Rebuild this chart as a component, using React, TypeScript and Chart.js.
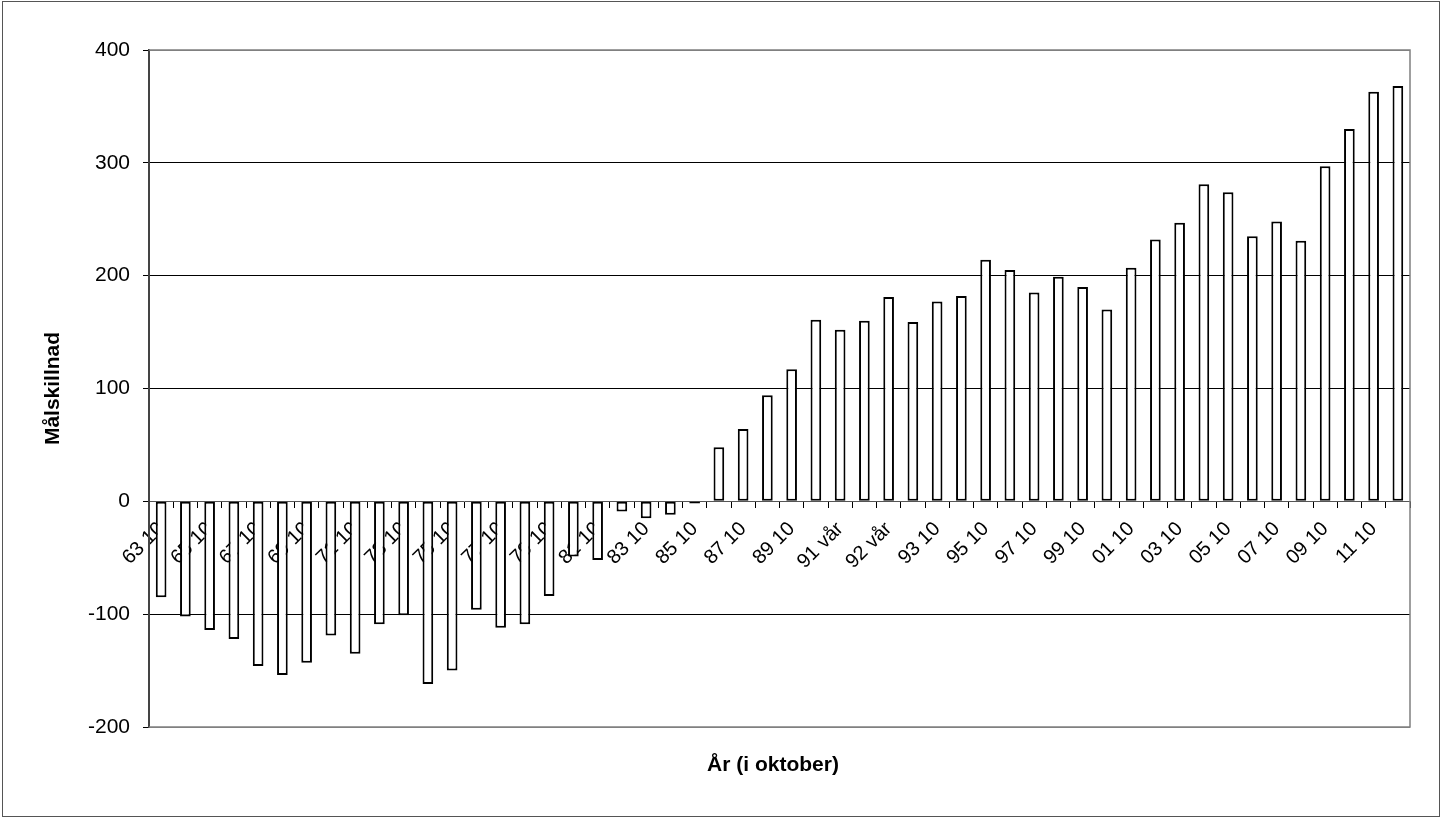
import { useEffect, useRef } from "react";
import { Chart, registerables } from "chart.js";

Chart.register(...registerables);

// Season labels (every other one is shown on the axis)
const categories = [
  "63 10", "64 10", "65 10", "66 10", "67 10", "68 10", "69 10", "70 10", "71 10", "72 10",
  "73 10", "74 10", "75 10", "76 10", "77 10", "78 10", "79 10", "80 10", "81 10", "82 10",
  "83 10", "84 10", "85 10", "86 10", "87 10", "88 10", "89 10", "90 10", "91 vår", "91 10",
  "92 vår", "92 10", "93 10", "94 10", "95 10", "96 10", "97 10", "98 10", "99 10", "00 10",
  "01 10", "02 10", "03 10", "04 10", "05 10", "06 10", "07 10", "08 10", "09 10", "10 10",
  "11 10", "12 10",
];

const goalDifference = [
  -85, -102, -114, -122, -146, -154, -143, -119, -135, -109,
  -101, -162, -150, -96, -112, -109, -84, -49, -52, -9,
  -15, -12, -2, 48, 64, 94, 117, 161, 152, 160,
  181, 159, 177, 182, 214, 205, 185, 199, 190, 170,
  207, 232, 247, 281, 274, 235, 248, 231, 297, 330,
  363, 368,
];

const yMin = -200;
const yMax = 400;
const yStep = 100;

const yTitle = "Målskillnad";
const xTitle = "År (i oktober)";

const FONT = "'Liberation Sans', Arial, Helvetica, sans-serif";

// gray frame on top/right/bottom of the plot area, plus the two axis titles
const framePlugin = {
  id: "plotFrame",
  beforeDatasetsDraw(chart: Chart) {
    const { ctx, chartArea: a } = chart;
    ctx.save();
    ctx.strokeStyle = "#808080";
    ctx.lineWidth = 1.5;
    ctx.beginPath();
    ctx.moveTo(a.left, a.top);
    ctx.lineTo(a.right, a.top);
    ctx.lineTo(a.right, a.bottom);
    ctx.lineTo(a.left, a.bottom);
    ctx.stroke();

    ctx.fillStyle = "#000";
    ctx.font = `bold 21px ${FONT}`;
    ctx.textAlign = "center";
    ctx.textBaseline = "middle";
    ctx.fillText(xTitle, 773, 765);
    ctx.translate(53, (a.top + a.bottom) / 2);
    ctx.rotate(-Math.PI / 2);
    ctx.fillText(yTitle, 0, 0);
    ctx.restore();
  },
};

export default function App() {
  const canvasRef = useRef<HTMLCanvasElement | null>(null);
  const chartRef = useRef<Chart | null>(null);

  useEffect(() => {
    if (!canvasRef.current) return;
    if (chartRef.current) chartRef.current.destroy();

    chartRef.current = new Chart(canvasRef.current, {
      type: "bar",
      data: {
        labels: categories,
        datasets: [
          {
            data: goalDifference,
            backgroundColor: "#ffffff",
            borderColor: "#000000",
            borderWidth: 2,
            borderSkipped: false,
            barPercentage: 0.44,
            categoryPercentage: 1,
          },
        ],
      },
      options: {
        animation: false,
        responsive: true,
        maintainAspectRatio: false,
        layout: { padding: { top: 50, right: 32, bottom: 92, left: 0 } },
        plugins: {
          legend: { display: false },
          tooltip: { enabled: false },
        },
        scales: {
          x: {
            type: "category",
            position: { y: 0 },
            afterFit: (scale: any) => {
              scale.height = 0;
            },
            grid: {
              drawOnChartArea: false,
              drawTicks: true,
              tickLength: 6,
              tickColor: "#000",
              offset: true,
            },
            border: { color: "#555", width: 1 },
            ticks: {
              autoSkip: false,
              maxRotation: 45,
              minRotation: 45,
              padding: 10,
              color: "#000",
              font: { family: FONT, size: 20 },
              callback: (_v: any, i: number) => (i % 2 === 0 ? categories[i] : ""),
            },
          },
          y: {
            min: yMin,
            max: yMax,
            afterFit: (scale: any) => {
              scale.width = 149;
            },
            grid: {
              color: (c: any) => {
                const v = c.tick?.value;
                if (v === 0) return "rgba(0,0,0,0)";
                if (v === yMin || v === yMax) return "#808080";
                return "#000";
              },
              lineWidth: 1,
              tickLength: 6,
              tickColor: "#000",
            },
            border: { color: "#444", width: 2 },
            ticks: {
              stepSize: yStep,
              padding: 13,
              color: "#000",
              font: { family: FONT, size: 21 },
            },
          },
        },
      },
      plugins: [framePlugin],
    });

    return () => {
      if (chartRef.current) {
        chartRef.current.destroy();
        chartRef.current = null;
      }
    };
  }, []);

  return (
    <div style={{ position: "absolute", left: 0, top: 0, width: 1442, height: 819, background: "#fff" }}>
      <div
        style={{
          position: "absolute",
          left: 2,
          top: 1,
          width: 1438,
          height: 816,
          border: "1px solid #555",
          boxSizing: "border-box",
        }}
      />
      <div style={{ position: "absolute", left: 0, top: 0, width: 1442, height: 819 }}>
        <canvas ref={canvasRef} />
      </div>
    </div>
  );
}
